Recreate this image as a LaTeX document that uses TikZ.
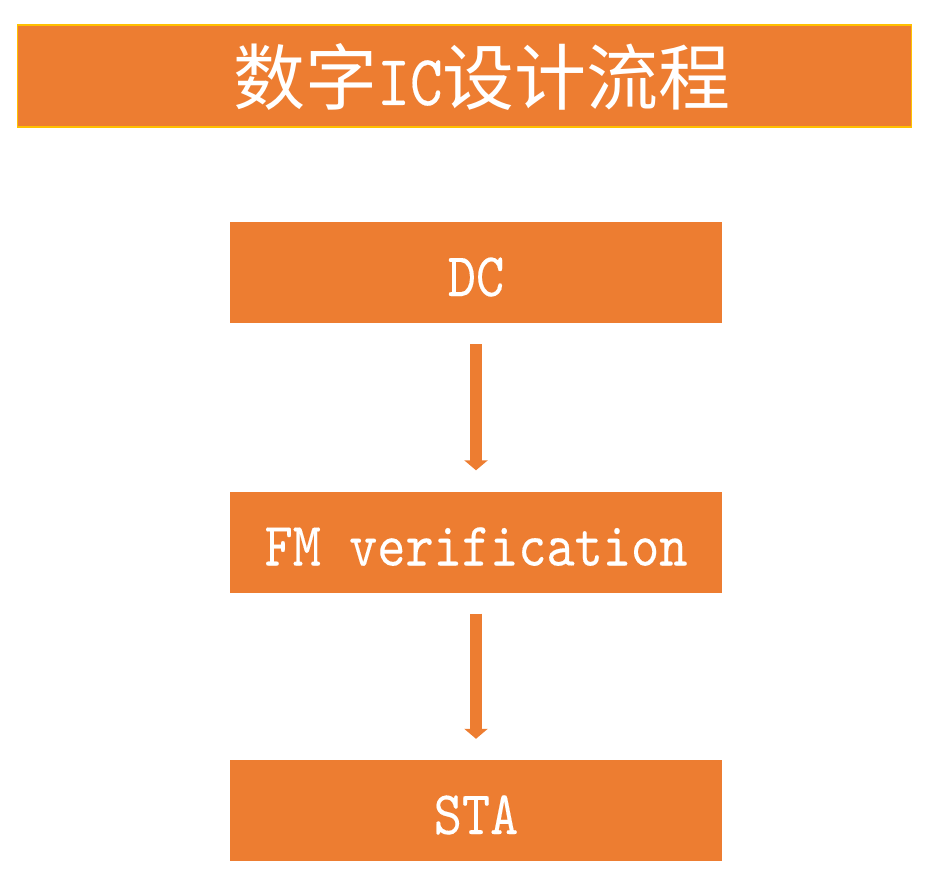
\documentclass[tikz,border=0pt]{standalone}
\usepackage{fontspec}
\usetikzlibrary{arrows.meta}
\newfontfamily\cjk{Noto Sans CJK SC}
\newfontfamily\latm[FakeStretch=0.866,FakeBold=0.2]{lmmono10-regular.otf}
\definecolor{boxorange}{HTML}{ED7D31}
\definecolor{titleborder}{HTML}{FFC000}
\begin{document}
\begin{tikzpicture}[x=1pt,y=-1pt,
  stepbox/.style={fill=boxorange, draw=none, inner sep=0pt, minimum width=492pt,
    text height=74pt, text depth=27pt, text=white, font=\latm\fontsize{62}{66}\selectfont},
  titlebox/.style={fill=boxorange, draw=titleborder, line width=1.5pt, inner sep=0pt,
    minimum width=894pt, minimum height=102pt},
  titletext/.style={inner sep=0pt, anchor=base, text=white},
  flowarrow/.style={draw=boxorange, line width=12pt,
    -{Triangle[width=23pt,length=10pt]}, shorten <=21pt, shorten >=21pt}]
\useasboundingbox (0,0) rectangle (934,877);
\node[titlebox] (title) at (464.5,76) {};
\node[titletext] (titlelabel) at (482,105) {\fontsize{72}{76}\selectfont\cjk 数字\latm IC\cjk 设计流程};
\node[stepbox] (dc) at (476,272.5) {DC};
\node[stepbox] (fm) at (476,542) {FM verification};
\node[stepbox] (sta) at (476,810.5) {STA};
\draw[flowarrow] (dc.south) -- (fm.north);
\draw[flowarrow] (fm.south) -- (sta.north);
\end{tikzpicture}
\end{document}
